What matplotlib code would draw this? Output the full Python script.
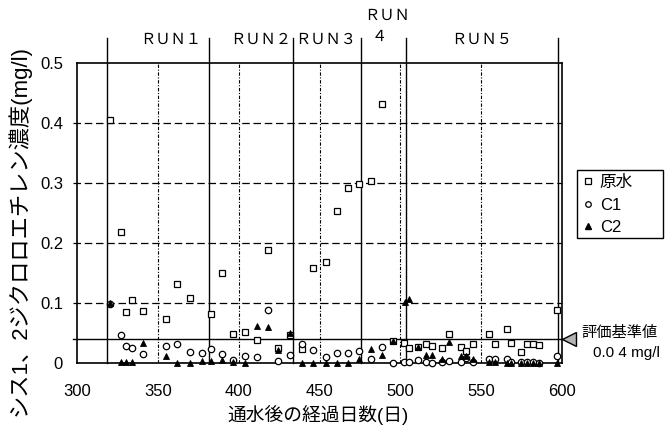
import matplotlib
matplotlib.use("Agg")
import matplotlib.pyplot as plt
from matplotlib.lines import Line2D
from matplotlib.patches import Rectangle

plt.rcParams['font.family'] = ['Liberation Sans', 'Noto Sans CJK JP']

# elapsed days / concentration (mg/l)
raw_days = [320.4, 327.2, 330.3, 333.8, 341.0, 355.0, 362.0, 369.9, 382.9, 389.9,
            396.7, 403.9, 411.1, 418.0, 424.5, 431.7, 439.0, 445.8, 454.0, 461.0,
            467.8, 474.6, 481.6, 488.8, 495.2, 502.2, 505.5, 510.7, 515.8, 519.3,
            525.5, 530.2, 537.3, 540.6, 545.1, 554.8, 558.5, 565.7, 568.4, 574.6,
            578.5, 582.2, 585.9, 597.0]
raw_vals = [0.405, 0.219, 0.085, 0.105, 0.087, 0.073, 0.132, 0.108, 0.082, 0.150,
            0.048, 0.052, 0.039, 0.188, 0.025, 0.046, 0.023, 0.159, 0.168, 0.254,
            0.291, 0.298, 0.304, 0.431, 0.037, 0.034, 0.025, 0.027, 0.031, 0.029,
            0.025, 0.048, 0.026, 0.020, 0.032, 0.048, 0.031, 0.056, 0.033, 0.019,
            0.032, 0.032, 0.030, 0.088]

c1_days = [320.4, 327.0, 330.3, 333.8, 341.0, 355.0, 362.0, 369.9, 377.1, 382.9,
           389.9, 396.7, 403.9, 411.1, 418.0, 424.5, 431.7, 439.0, 445.8, 454.0,
           461.0, 467.8, 474.6, 481.6, 488.4, 495.2, 502.2, 505.5, 510.7, 515.8,
           519.3, 525.5, 530.2, 537.3, 540.6, 545.1, 554.8, 558.5, 565.7, 568.4,
           574.6, 578.5, 582.2, 585.9, 597.0]
c1_vals = [0.098, 0.047, 0.028, 0.025, 0.015, 0.028, 0.032, 0.018, 0.016, 0.023,
           0.015, 0.005, 0.012, 0.010, 0.088, 0.003, 0.013, 0.032, 0.022, 0.010,
           0.017, 0.017, 0.020, 0.006, 0.026, 0.000, 0.001, 0.001, 0.005, 0.002,
           0.000, 0.001, 0.003, 0.002, 0.008, 0.002, 0.006, 0.006, 0.007, 0.002,
           0.001, 0.001, 0.001, 0.000, 0.012]

c2_days = [320.4, 327.0, 330.3, 333.8, 341.0, 355.0, 362.0, 369.9, 377.1, 382.9,
           389.9, 396.7, 403.9, 411.1, 418.0, 424.5, 431.7, 439.0, 445.8, 454.0,
           461.0, 467.8, 474.6, 481.6, 488.4, 495.2, 502.8, 505.5, 510.7, 515.8,
           519.3, 525.5, 530.2, 537.3, 540.6, 545.1, 554.8, 558.5, 565.7, 568.4,
           574.6, 578.5, 582.2, 585.9, 597.0]
c2_vals = [0.100, 0.001, 0.001, 0.001, 0.033, 0.011, 0.000, 0.000, 0.003, 0.003,
           0.005, 0.002, 0.000, 0.061, 0.060, 0.021, 0.050, 0.000, 0.000, 0.000,
           0.000, 0.000, 0.007, 0.023, 0.013, 0.037, 0.101, 0.106, 0.027, 0.013,
           0.013, 0.006, 0.035, 0.012, 0.012, 0.007, 0.001, 0.001, 0.000, 0.000,
           0.000, 0.000, 0.000, 0.000, 0.000]

# run boundaries (days) and run names
run_edges = [318.6, 381.6, 433.6, 475.6, 503.5, 597.5]
run_names = ["ＲＵＮ１", "ＲＵＮ２", "ＲＵＮ３", "ＲＵＮ\n４", "ＲＵＮ５"]
run_label_x = [358.1, 413.8, 454.0, 492.0, 550.5]

limit_value = 0.04
x_ticks = [300, 350, 400, 450, 500, 550, 600]
y_ticks = [0, 0.1, 0.2, 0.3, 0.4, 0.5]
y_tick_labels = ["0", "0.1", "0.2", "0.3", "0.4", "0.5"]

fig = plt.figure(figsize=(6.68, 4.29), dpi=100)
ax = fig.add_axes([77 / 668, 66 / 429, 485 / 668, 300 / 429])
ax.set_xlim(300, 600)
ax.set_ylim(0, 0.5)

# grid: dashed horizontals, dash-dot verticals
for y in y_ticks[1:-1]:
    ax.plot([297.5, 600], [y, y], color="black", lw=0.9, ls=(0, (6, 3)),
            clip_on=False, zorder=1)
for x in x_ticks[1:-1]:
    ax.plot([x, x], [0, 0.5], color="black", lw=0.8, ls=(0, (3, 1.5, 1, 1.5)),
            zorder=1)

# run boundaries reach up into the label band
for x in run_edges:
    ax.plot([x, x], [0, 0.542], color="black", lw=1.0, clip_on=False, zorder=2)
for name, x in zip(run_names, run_label_x):
    if "\n" in name:
        top, bottom = name.split("\n")
        ax.text(x, 0.58, top, ha="center", va="center", fontsize=11,
                family="Noto Sans CJK JP")
        ax.text(x - 5, 0.545, bottom, ha="center", va="center", fontsize=11,
                family="Noto Sans CJK JP")
    else:
        ax.text(x, 0.539, name, ha="center", va="center", fontsize=11,
                family="Noto Sans CJK JP")

# evaluation standard line and its pointer
ax.plot([297.5, 600], [limit_value, limit_value], color="black", lw=1.0,
        clip_on=False, zorder=2)
ax.plot([604.5], [limit_value], marker="<", ms=10, mfc="0.7", mec="black",
        mew=1.0, clip_on=False, zorder=3)
ax.text(612, 0.05, "評価基準値", ha="left", va="center", fontsize=11)
ax.text(619, 0.0167, "0.0 4 mg/l", ha="left", va="center", fontsize=11)

ax.plot(raw_days, raw_vals, ls="none", marker="s", ms=5, mfc="white",
        mec="black", mew=0.9, zorder=4, clip_on=False)
ax.plot(c1_days, c1_vals, ls="none", marker="o", ms=4.6, mfc="white",
        mec="black", mew=0.9, zorder=5, clip_on=False)
ax.plot(c2_days, c2_vals, ls="none", marker="^", ms=4.8, mfc="black",
        mec="black", mew=0.6, zorder=6, clip_on=False)

ax.set_xticks(x_ticks)
ax.set_yticks(y_ticks)
ax.set_yticklabels(y_tick_labels)
ax.tick_params(length=0, labelsize=12)
ax.tick_params(axis="x", pad=15)
ax.tick_params(axis="y", pad=10)
for side in ax.spines.values():
    side.set_linewidth(1.2)

handles = [
    Line2D([], [], ls="none", marker="s", ms=4, mfc="white", mec="black", mew=0.9),
    Line2D([], [], ls="none", marker="o", ms=4, mfc="white", mec="black", mew=0.9),
    Line2D([], [], ls="none", marker="^", ms=4, mfc="black", mec="black"),
]
fig.legend(handles, ["原水", "C1", "C2"], loc="upper left",
           bbox_to_anchor=(583 / 668, 1 - 175 / 429), fontsize=12,
           frameon=False, handlelength=0.6, handletextpad=0.4,
           labelspacing=0.45, borderpad=0, borderaxespad=0)
fig.add_artist(Rectangle((577 / 668, 1 - 238 / 429), 86 / 668, 68 / 429,
                         transform=fig.transFigure, fill=False,
                         edgecolor="black", lw=1.0))

fig.text(318 / 668, 1 - 415 / 429, "通水後の経過日数(日)", ha="center",
         va="center", fontsize=13.5)
fig.text(19 / 668, 1 - 230 / 429, "シス1、2ジクロロエチレン濃度(mg/l)",
         ha="center", va="center", rotation=90, fontsize=16)

fig.savefig("out.png", dpi=100)
